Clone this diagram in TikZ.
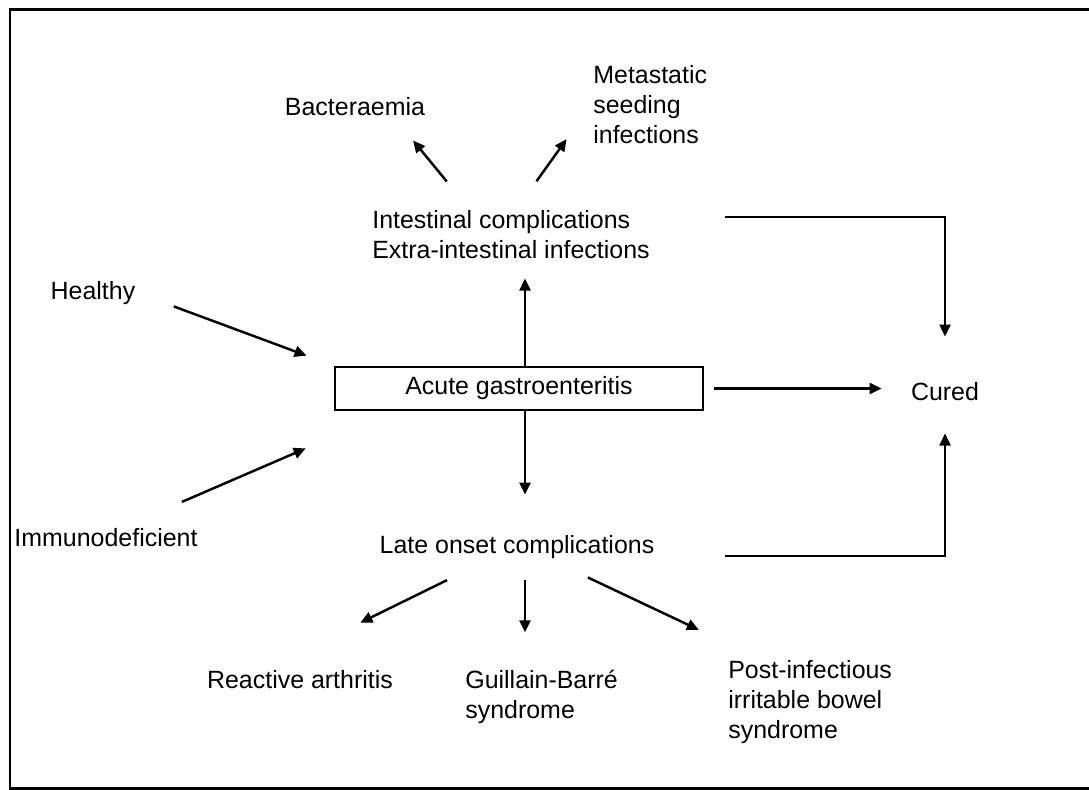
\documentclass[tikz,border=0pt]{standalone}
\usepackage{fontspec}
\setmainfont{Liberation Sans}
\usepackage{xcolor}
\usepackage{tikz}
\usetikzlibrary{arrows.meta}
\definecolor{ink}{HTML}{000000}
\tikzset{
  lbl/.style={text=ink, font=\fontsize{14.2}{17.07}\selectfont, inner sep=0.04cm},
  lblLeft/.style={lbl, align=left},
  stateBox/.style={lbl, draw=ink, line width=1.5pt, minimum width=7.36cm, minimum height=0.86cm},
  flowArr/.style={draw=ink, line width=1.4pt, -{Triangle[length=0.24cm,width=0.22cm]}},
  frameLine/.style={draw=ink, line width=1.7pt},
}

\begin{document}
\begin{tikzpicture}[x=0.02cm, y=-0.02cm]
  \useasboundingbox (0,0) rectangle (1089,789);
  \draw[frameLine] (1089,9) -- (10,9) -- (10,788) -- (1089,788);

  \node[stateBox] (acute) at (519,388.5) {Acute gastroenteritis};
  \node[lbl] (healthy) at (93,293) {Healthy};
  \node[lbl] (immuno) at (106,538) {Immunodeficient};
  \node[lblLeft] (intest) at (511,235) {Intestinal complications\\Extra-intestinal infections};
  \node[lbl] (bact) at (355,107) {Bacteraemia};
  \node[lblLeft, anchor=west] (meta) at (591,105) {Metastatic\\seeding\\infections};
  \node[lbl] (cured) at (945,392) {Cured};
  \node[lbl] (late) at (517,547) {Late onset complications};
  \node[lbl] (reactive) at (300,680) {Reactive arthritis};
  \node[lblLeft, anchor=west] (guillain) at (463,697) {Guillain-Barré\\syndrome};
  \node[lblLeft, anchor=west] (post) at (726,702) {Post-infectious\\irritable bowel\\syndrome};

  % into the box
  \draw[flowArr, shorten <=0.77cm, shorten >=0.58cm] (healthy.east) -- (acute.north west);
  \draw[flowArr, shorten <=1.24cm, shorten >=0.61cm] ([xshift=0.38cm]immuno.north) -- ([yshift=-0.5cm]acute.south west);

  % out of the box
  \draw[flowArr, shorten >=0.34cm] ([xshift=0.12cm]acute.north) -- ([xshift=0.12cm]acute.north |- intest.south);
  \draw[flowArr, shorten >=0.77cm] ([xshift=0.12cm]acute.south) -- ([xshift=0.12cm]acute.south |- late.north);
  \draw[flowArr, shorten <=0.2cm, shorten >=0.54cm] (acute.east) -- (acute.east -| cured.west);

  % to cured
  \draw[flowArr, shorten <=1.46cm, shorten >=0.88cm] ([yshift=0.36cm]intest.east) -| (cured.north);
  \draw[flowArr, shorten <=1.37cm, shorten >=0.6cm] ([yshift=-0.18cm]late.east) -| (cured.south);

  % upper branches
  \draw[flowArr, shorten <=0.7cm, shorten >=0.57cm] ([xshift=-0.84cm]intest.north) -- ([xshift=0.8cm]bact.south);
  \draw[flowArr, shorten <=0.67cm, shorten >=0.84cm] ([xshift=0.12cm]intest.north) -- (meta.west);

  % lower branches
  \draw[flowArr, shorten <=0.87cm, shorten >=2.08cm] ([xshift=-0.62cm]late.south) -- ([xshift=-0.66cm]reactive.north);
  \draw[flowArr, shorten <=0.39cm, shorten >=0.71cm] ([xshift=0.16cm]late.south) -- ([xshift=0.16cm]late.south |- guillain.north);
  \draw[flowArr, shorten <=0.77cm, shorten >=1.32cm] ([xshift=0.72cm]late.south) -- ([xshift=0.65cm]post.north west);
\end{tikzpicture}
\end{document}
